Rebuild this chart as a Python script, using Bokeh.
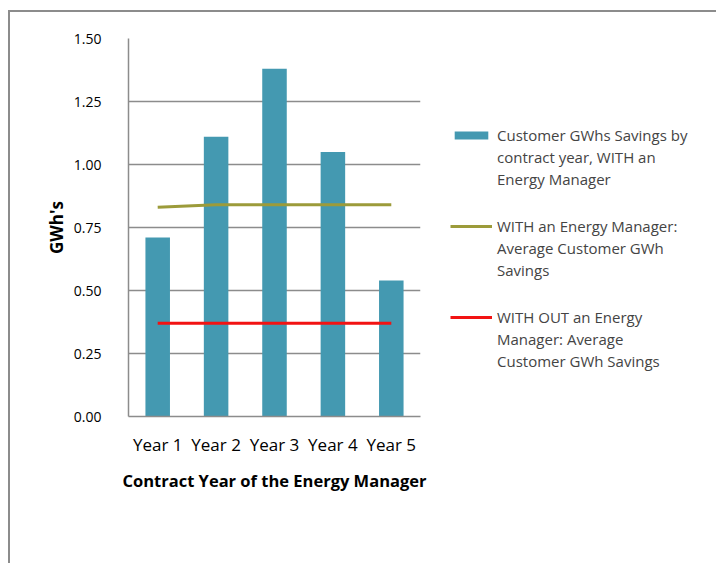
from bokeh.plotting import figure
from bokeh.layouts import row
from bokeh.models import (FactorRange, Range1d, FixedTicker, NumeralTickFormatter,
                          ColumnDataSource, Legend, LegendItem, InlineStyleSheet)
from bokeh.embed import file_html
from bokeh.resources import INLINE

years = ["Year 1", "Year 2", "Year 3", "Year 4", "Year 5"]
savings_with = [0.71, 1.11, 1.38, 1.05, 0.54]
avg_with = [0.83, 0.84, 0.84, 0.84, 0.84]
avg_without = [0.37, 0.37, 0.37, 0.37, 0.37]
y_ticks = [0.0, 0.25, 0.5, 0.75, 1.0, 1.25, 1.5]

label_bar = ["Customer GWhs Savings by", "contract year, WITH an", "Energy Manager"]
label_with = ["WITH an Energy Manager:", "Average Customer GWh", "Savings"]
label_without = ["WITH OUT an Energy", "Manager: Average", "Customer GWh Savings"]

FONT = "Open Sans"
BAR_COLOR = "#4499B1"
WITH_COLOR = "#9C9B3A"
WITHOUT_COLOR = "#F21313"
GRID = "#8c8c8c"

src = ColumnDataSource(dict(x=years, top=savings_with, w=avg_with, wo=avg_without))

p = figure(x_range=FactorRange(*years), y_range=Range1d(0, 1.5),
           width=440, height=563, output_backend="svg", toolbar_location=None,
           min_border_left=128, min_border_right=20, min_border_top=38, min_border_bottom=147)
p.outline_line_color = None

bars = p.vbar(x="x", top="top", width=0.42, bottom=0, source=src, fill_color=BAR_COLOR, line_color=None)
p.line(x="x", y="w", source=src, line_color=WITH_COLOR, line_width=3)
p.line(x="x", y="wo", source=src, line_color=WITHOUT_COLOR, line_width=3)

p.xgrid.grid_line_color = None
p.ygrid.grid_line_color = GRID
p.ygrid.grid_line_width = 1.5
p.yaxis.ticker = FixedTicker(ticks=y_ticks)
p.yaxis.formatter = NumeralTickFormatter(format="0.00")

for ax in (p.xaxis[0], p.yaxis[0]):
    ax.axis_line_color = GRID
    ax.axis_line_width = 1.5
    ax.major_tick_line_color = None
    ax.minor_tick_line_color = None
    ax.major_label_text_font = FONT
    ax.major_label_text_color = "black"
    ax.axis_label_text_font = FONT
    ax.axis_label_text_font_size = "16.5px"
    ax.axis_label_text_font_style = "bold"
    ax.axis_label_text_color = "black"

p.yaxis.axis_label = "GWh's"
p.yaxis.axis_label_text_font_size = "17px"
p.yaxis.major_label_text_font_size = "14px"
p.yaxis.major_label_standoff = 21
p.yaxis.axis_label_standoff = 3
p.xaxis.axis_label = "Contract Year of the Energy Manager"
p.xaxis.major_label_text_font_size = "17px"
p.xaxis.major_label_standoff = 10
p.xaxis.axis_label_standoff = 10

# legend panel (frame aligned with the chart frame: top 38, bottom 416)
q = figure(width=276, height=563, output_backend="svg", toolbar_location=None,
           x_axis_type=None, y_axis_type=None, x_range=Range1d(0, 1), y_range=Range1d(0, 1),
           min_border_left=0, min_border_right=0, min_border_top=38, min_border_bottom=147)
q.outline_line_color = None
q.grid.grid_line_color = None
nan = float("nan")
blank = ColumnDataSource(dict(x=[nan], y=[nan], top=[nan]))
r_bar = q.vbar(x="x", top="top", width=0.1, source=blank, fill_color=BAR_COLOR, line_color=None)
r_with = q.line(x="x", y="y", source=blank, line_color=WITH_COLOR, line_width=3)
r_without = q.line(x="x", y="y", source=blank, line_color=WITHOUT_COLOR, line_width=3)

FRAME_BOTTOM = 416

def make_legend(lines, renderer, bottom):
    items = [LegendItem(label=lines[0], renderers=[renderer])]
    items += [LegendItem(label=t, renderers=[]) for t in lines[1:]]
    return Legend(items=items, location=(10, FRAME_BOTTOM - bottom), padding=0, margin=0, spacing=0,
                  border_line_color=None, background_fill_alpha=0,
                  glyph_width=42, glyph_height=10, label_height=22,
                  label_text_font=FONT, label_text_font_size="15px",
                  label_standoff=5)

q.add_layout(make_legend(label_bar, r_bar, 190), "center")
q.add_layout(make_legend(label_with, r_with, 281), "center")
q.add_layout(make_legend(label_without, r_without, 372), "center")

layout = row(p, q, spacing=0)
layout.stylesheets = [InlineStyleSheet(css=(
    ":host { position: relative; }"
    ":host::after { content: ''; position: absolute; left: 8px; top: 10px; right: 0; bottom: 0;"
    " border-left: 2px solid #8c8c8c; border-top: 2px solid #8c8c8c; pointer-events: none; }"))]

open("out.html", "w").write(file_html(layout, INLINE))
